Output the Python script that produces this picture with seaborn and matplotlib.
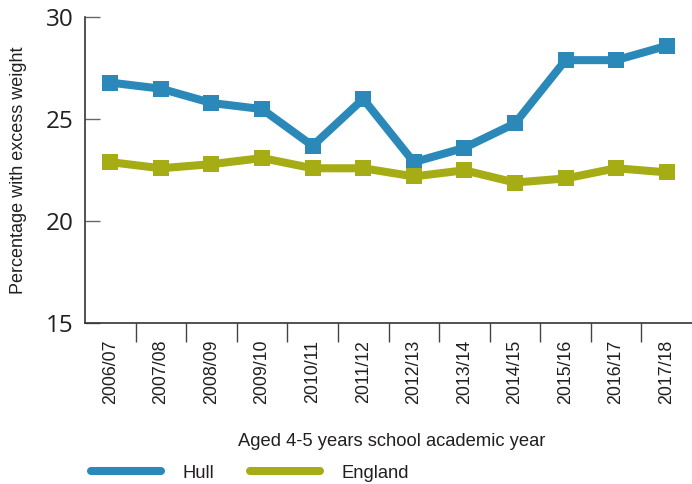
import matplotlib
matplotlib.use("Agg")
import matplotlib.pyplot as plt
from matplotlib.ticker import FixedLocator
from matplotlib.lines import Line2D
import seaborn as sns
import pandas as pd

years = ["2006/07", "2007/08", "2008/09", "2009/10", "2010/11", "2011/12",
         "2012/13", "2013/14", "2014/15", "2015/16", "2016/17", "2017/18"]
hull = [26.8, 26.5, 25.8, 25.5, 23.7, 26.0, 22.9, 23.6, 24.8, 27.9, 27.9, 28.6]
england = [22.9, 22.6, 22.8, 23.1, 22.6, 22.6, 22.2, 22.5, 21.9, 22.1, 22.6, 22.4]
series_names = ["Hull", "England"]
colors = {"Hull": "#2a89b8", "England": "#a6ac13"}
yticks = [15, 20, 25, 30]

sns.set_style("white")
plt.rcParams["font.family"] = ["Liberation Sans", "DejaVu Sans"]

rows = []
for i, y in enumerate(years):
    rows.append({"pos": i, "year": y, "value": hull[i], "area": "Hull"})
    rows.append({"pos": i, "year": y, "value": england[i], "area": "England"})
df = pd.DataFrame(rows)

fig = plt.figure(figsize=(6.92, 4.84), dpi=100)
ax = fig.add_axes([85 / 692, 1 - 323.3 / 484, 1 - 85 / 692, (323.3 - 17.3) / 484])

sns.lineplot(data=df, x="pos", y="value", hue="area", hue_order=series_names,
             palette=colors, marker="s", markersize=11, markeredgewidth=0,
             linewidth=5.8, ax=ax, legend=False)
for ln in ax.lines:
    ln.set_solid_joinstyle("miter")

ax.set_xlim(-0.5, len(years) - 0.5)
ax.set_ylim(15, 30)
ax.set_yticks(yticks)
ax.set_yticklabels([str(t) for t in yticks], fontfamily="Open Sans", fontsize=17.5, color="#231f20")
ax.tick_params(axis="y", left=True, direction="in", length=10.8, width=1.0, color="#666666", pad=8.5)

ax.set_xticks(range(len(years)))
ax.set_xticklabels(years, rotation=90, fontsize=12.8, color="#231f20")
ax.tick_params(axis="x", which="major", bottom=True, length=0, pad=12)
ax.xaxis.set_minor_locator(FixedLocator([i + 0.5 for i in range(len(years) - 1)]))
ax.tick_params(axis="x", which="minor", bottom=True, direction="out", length=13.7, width=1.0, color="#444444")

for s in ["top", "right"]:
    ax.spines[s].set_visible(False)
for s in ["left", "bottom"]:
    ax.spines[s].set_color("#333333")
    ax.spines[s].set_linewidth(1.2)

ax.set_xlabel("Aged 4-5 years school academic year", fontsize=13.2, color="#231f20")
ax.set_ylabel("Percentage with excess weight", fontsize=13, color="#231f20")
ax.xaxis.set_label_coords((392 - 85) / (692 - 85), -(442 - 323.3) / 306)
ax.yaxis.set_label_coords(-(85 - 19) / (692 - 85), 0.5)
ax.yaxis.label.set_verticalalignment("center")
ax.xaxis.label.set_verticalalignment("center")

handles = [Line2D([0], [0], color=colors[n], linewidth=5.8, solid_capstyle="round") for n in series_names]
leg = fig.legend(handles, series_names, loc="center left", bbox_to_anchor=(74 / 692, 1 - 473 / 484),
                 ncol=2, frameon=False, fontsize=13.2, handlelength=3.85, handletextpad=1.15,
                 columnspacing=1.95, labelcolor="#231f20")

fig.savefig("out.png", dpi=100)
